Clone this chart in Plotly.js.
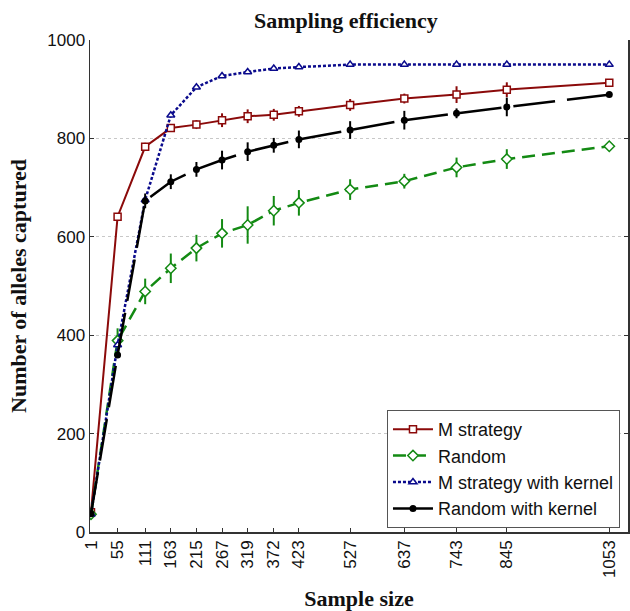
<!DOCTYPE html>
<html>
<head>
<meta charset="utf-8">
<script src="https://cdn.plot.ly/plotly-3.0.1.min.js"></script>
<style>html,body{margin:0;padding:0;background:#fff;}#chart{width:630px;height:611px;}</style>
</head>
<body>
<div id="chart"></div>
<script>
// ---- data ----
var sampleSize = [1, 55, 111, 163, 215, 267, 319, 372, 423, 527, 637, 743, 845, 1053];

var mStrategy      = [40, 641, 783, 821, 828, 837, 845, 848, 855, 868, 881, 889, 899, 913];
var mStrategyErr   = [0, 5, 8, 8, 9, 14, 14, 12, 11, 12, 10, 17, 15, 0];

var randomVals     = [36, 389, 489, 536, 577, 607, 624, 653, 669, 696, 713, 741, 758, 784];
var randomErr      = [0, 25, 26, 30, 27, 29, 38, 30, 26, 21, 15, 20, 20, 0];

var mKernel        = [36, 380, 675, 847, 904, 927, 935, 942, 945, 950, 950, 950, 950, 950];

var randomKernel    = [37, 360, 673, 712, 737, 756, 773, 786, 798, 817, 837, 851, 864, 889];
var randomKernelErr = [0, 0, 15, 15, 15, 19, 19, 15, 18, 18, 19, 10, 19, 0];

var seriesNames = ["M strategy", "Random", "M strategy with kernel", "Random with kernel"];
var yTicks = [0, 200, 400, 600, 800, 1000];

// ---- styles ----
var cRed = "#8b0a0a", cGreen = "#138a13", cBlue = "#0a0a8c", cBlack = "#000000";

function errBars(arr, col) {
  return {type: "data", array: arr, visible: true, color: col, thickness: 2, width: 0};
}

var traces = [
  {x: sampleSize, y: mStrategy, name: seriesNames[0], mode: "lines+markers",
   line: {color: cRed, width: 2},
   marker: {symbol: "square", size: 7, color: "#fff", line: {color: cRed, width: 1.5}},
   error_y: errBars(mStrategyErr, cRed)},
  {x: sampleSize, y: randomVals, name: seriesNames[1], mode: "lines+markers",
   line: {color: cGreen, width: 2.5, dash: "13px,7px"},
   marker: {symbol: "diamond", size: 8, color: "#fff", line: {color: cGreen, width: 1.5}},
   error_y: errBars(randomErr, cGreen)},
  {x: sampleSize, y: mKernel, name: seriesNames[2], mode: "lines+markers",
   line: {color: cBlue, width: 2.5, dash: "3px,2px"},
   marker: {symbol: "triangle-up", size: 7, color: "#fff", line: {color: cBlue, width: 1.5}}},
  {x: sampleSize, y: randomKernel, name: seriesNames[3], mode: "lines+markers",
   line: {color: cBlack, width: 2.5, dash: "42px,12px"},
   marker: {symbol: "circle", size: 7, color: cBlack},
   error_y: errBars(randomKernelErr, cBlack)}
];

var tickFont = {family: "Liberation Sans, Arial, sans-serif", size: 17, color: "#111"};
var titleFont = {family: "Liberation Serif, Times New Roman, serif", size: 22, color: "#111", weight: "bold"};

var layout = {
  width: 630, height: 611,
  margin: {l: 90, r: 2, t: 40, b: 79},
  paper_bgcolor: "#fff", plot_bgcolor: "#fff",
  showlegend: true,
  title: {text: "Sampling efficiency", font: titleFont, x: 0.549, xanchor: "center",
          y: 0.966, yanchor: "middle"},
  xaxis: {
    range: [-1, 1091], tickmode: "array", tickvals: sampleSize, ticktext: sampleSize.map(String),
    tickangle: -90, ticks: "inside", ticklen: 4, tickcolor: "#333",
    showline: true, linecolor: "#333", linewidth: 1.5, mirror: false,
    showgrid: false, zeroline: false, tickfont: tickFont, automargin: false,
    title: {text: "Sample size", font: titleFont, standoff: 13}
  },
  xaxis2: {
    overlaying: "x", side: "top", range: [0, 24], dtick: 1, ticks: "inside", ticklen: 4,
    tickcolor: "#333", showticklabels: false, showline: true, linecolor: "#333", linewidth: 1.5,
    showgrid: false, zeroline: false, anchor: "y"
  },
  yaxis: {
    range: [0, 1000], tickmode: "array", tickvals: yTicks,
    ticks: "inside", ticklen: 4, tickcolor: "#333",
    showline: true, linecolor: "#333", linewidth: 1.5, mirror: "ticks",
    showgrid: true, gridcolor: "#c8c8c8", griddash: "dot", gridwidth: 1,
    zeroline: false, tickfont: tickFont, automargin: false,
    title: {text: "Number of alleles captured", font: titleFont, standoff: 14}
  },
  legend: {
    x: 0.552, y: 0.248, xanchor: "left", yanchor: "top",
    bgcolor: "#fff", bordercolor: "#555", borderwidth: 1,
    font: {family: "Liberation Sans, Arial, sans-serif", size: 18, color: "#111"},
    itemwidth: 40, tracegroupgap: 0
  }
};

Plotly.newPlot("chart", traces, layout, {displayModeBar: false, staticPlot: true});
</script>
</body>
</html>
